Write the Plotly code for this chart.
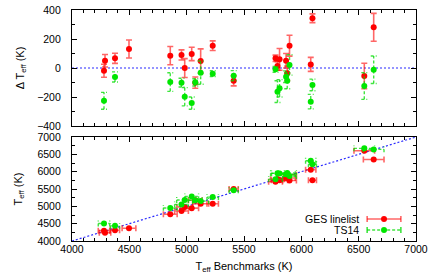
import plotly.graph_objects as go

# ---------------- data ----------------
bench = [4279, 4288, 4375, 4497, 4857, 4955, 4983, 5044, 5075, 5122, 5227, 5410,
         5775, 5792, 5810, 5867, 5877, 5897, 6082, 6097, 6549, 6631]
bench_err = [50, 50, 40, 60, 60, 60, 70, 60, 60, 70, 50, 40,
             60, 60, 70, 80, 80, 60, 45, 35, 90, 90]

d_ges = [-19, 50, 67, 131, 85, 90, 0, 97, -101, 48, 154, -88,
         67, 14, 60, 50, -37, 154, 25, 343, -55, 281]
d_ges_err = [45, 43, 35, 62, 63, 35, 65, 46, 39, 84, 33, 35,
             22, 30, 75, 50, 50, 72, 48, 30, 88, 96]

d_ts14 = [-226, None, -62, None, -97, -101, -198, -242, -99, -32, -39, -53,
          -9, -163, -140, -60, -88, 21, -232, -117, -124, -12]
d_ts14_err = [58, None, 35, None, 64, 30, 63, 42, 25, 80, 20, 35,
              20, 75, 60, 40, 55, 70, 50, 40, 92, 95]

teff_ges = [4298, 4238, 4308, 4366, 4772, 4865, 4983, 4947, 5176, 5074, 5073, 5498,
            5708, 5778, 5750, 5817, 5914, 5743, 6057, 5754, 6604, 6350]
teff_ts14 = [4505, None, 4437, None, 4954, 5056, 5181, 5286, 5174, 5154, 5266, 5463,
             5784, 5955, 5950, 5927, 5965, 5876, 6314, 6214, 6673, 6643]

x_ticks = [4000, 4500, 5000, 5500, 6000, 6500, 7000]
dy_ticks = [-400, -200, 0, 200, 400]
t_ticks = [4000, 4500, 5000, 5500, 6000, 6500, 7000]

series_names = ["GES linelist", "TS14"]

# ---------------- styles ----------------
RED = "#ff0000"
RED_BAR = "rgba(255,0,0,0.6)"
GREEN = "#00e600"
GREEN_BAR = "rgba(0,220,0,0.75)"
BLUE = "#2a2aff"
FONT = "Liberation Sans, Arial, sans-serif"
CAP_X = 26     # half cap width in K on the x axis (about 3 px)
CAP_Y = 85     # half cap height in K on the lower y axis (about 3 px)

fig = go.Figure()

# reference lines
fig.add_trace(go.Scatter(x=[x_ticks[0], x_ticks[-1]], y=[0, 0], mode="lines",
                         line=dict(color=BLUE, width=1.2, dash="2px,2px"),
                         xaxis="x", yaxis="y", showlegend=False, hoverinfo="skip"))
fig.add_trace(go.Scatter(x=[t_ticks[0], t_ticks[-1]], y=[t_ticks[0], t_ticks[-1]], mode="lines",
                         line=dict(color=BLUE, width=1.2, dash="2px,2px"),
                         xaxis="x2", yaxis="y2", showlegend=False, hoverinfo="skip"))

# ---- top panel: GES linelist ----
fig.add_trace(go.Scatter(x=bench, y=d_ges, mode="markers",
                         marker=dict(color=RED, size=6),
                         error_y=dict(type="data", array=d_ges_err, color=RED_BAR,
                                      thickness=1.6, width=3),
                         xaxis="x", yaxis="y", showlegend=False))

# ---- top panel: TS14 dashed error bars built from data ----
gx, gy = [], []
for b, d, e in zip(bench, d_ts14, d_ts14_err):
    if d is None:
        continue
    gx += [b, b, None, b - CAP_X, b + CAP_X, None, b - CAP_X, b + CAP_X, None]
    gy += [d - e, d + e, None, d - e, d - e, None, d + e, d + e, None]
fig.add_trace(go.Scatter(x=gx, y=gy, mode="lines",
                         line=dict(color=GREEN_BAR, width=1.4, dash="3px,2px"),
                         xaxis="x", yaxis="y", showlegend=False, hoverinfo="skip"))
fig.add_trace(go.Scatter(x=bench, y=d_ts14, mode="markers",
                         marker=dict(color=GREEN, size=6),
                         xaxis="x", yaxis="y", showlegend=False))

# ---- bottom panel: GES linelist ----
fig.add_trace(go.Scatter(x=bench, y=teff_ges, mode="markers",
                         marker=dict(color=RED, size=6),
                         error_x=dict(type="data", array=bench_err, color=RED_BAR,
                                      thickness=1.6, width=3),
                         xaxis="x2", yaxis="y2", showlegend=False))

# ---- bottom panel: TS14 dashed horizontal error bars ----
hx, hy = [], []
for b, t, e in zip(bench, teff_ts14, bench_err):
    if t is None:
        continue
    hx += [b - e, b + e, None, b - e, b - e, None, b + e, b + e, None]
    hy += [t, t, None, t - CAP_Y, t + CAP_Y, None, t - CAP_Y, t + CAP_Y, None]
fig.add_trace(go.Scatter(x=hx, y=hy, mode="lines",
                         line=dict(color=GREEN_BAR, width=1.4, dash="3px,2px"),
                         xaxis="x2", yaxis="y2", showlegend=False, hoverinfo="skip"))
fig.add_trace(go.Scatter(x=bench, y=teff_ts14, mode="markers",
                         marker=dict(color=GREEN, size=6),
                         xaxis="x2", yaxis="y2", showlegend=False))

# ---------------- key (gnuplot style: text right, sample on the right) ----------------
key_rows = [(0.0952, RED, RED_BAR, "solid"), (0.0476, GREEN, GREEN_BAR, "3px,2px")]
shapes = []
annotations = []
for name, (yk, mc, lc, dash) in zip(series_names, key_rows):
    annotations.append(dict(xref="paper", yref="paper", x=0.837, y=yk, text=name,
                            showarrow=False, xanchor="right", yanchor="middle",
                            borderpad=0,
                            font=dict(family=FONT, size=10.5, color="black")))
    shapes.append(dict(type="line", xref="paper", yref="paper", x0=0.858, x1=0.956,
                       y0=yk, y1=yk, line=dict(color=lc, width=1.6, dash=dash)))
    for xe in (0.858, 0.956):
        shapes.append(dict(type="line", xref="paper", yref="paper", x0=xe, x1=xe,
                           ysizemode="pixel", yanchor=yk, y0=-3, y1=3,
                           line=dict(color=lc, width=1.6)))
    shapes.append(dict(type="circle", xref="paper", yref="paper",
                       xsizemode="pixel", ysizemode="pixel", xanchor=0.907, yanchor=yk,
                       x0=-3, x1=3, y0=-3, y1=3, fillcolor=mc, line=dict(width=0)))

axis_common = dict(showline=True, linecolor="black", linewidth=1.2, mirror="allticks",
                   ticks="inside", ticklen=5, tickcolor="black", tickwidth=1,
                   showgrid=False, zeroline=False, automargin=False,
                   tickfont=dict(family=FONT, size=10.5, color="black"))

fig.update_layout(
    width=431, height=276,
    margin=dict(l=72, r=15, t=10, b=35),
    paper_bgcolor="white", plot_bgcolor="white",
    font=dict(family=FONT, size=10.5, color="black"),
    showlegend=False,
    xaxis=dict(domain=[0, 1], anchor="y", range=[4000, 7000], tickvals=x_ticks,
               showticklabels=False,
               minor=dict(dtick=100, ticks="inside", ticklen=3, tickcolor="black"),
               **axis_common),
    yaxis=dict(domain=[0.4978, 1], anchor="x", range=[-400, 400], tickvals=dy_ticks,
               minor=dict(dtick=100, ticks="inside", ticklen=3, tickcolor="black"),
               ticklabelstandoff=8,
               title=dict(text="Δ T<sub>eff</sub> (K)", standoff=10,
                          font=dict(family=FONT, size=11, color="black")),
               **axis_common),
    xaxis2=dict(domain=[0, 1], anchor="y2", range=[4000, 7000], tickvals=x_ticks,
                minor=dict(dtick=100, ticks="inside", ticklen=3, tickcolor="black"),
                ticklabelstandoff=-2,
                title=dict(text="T<sub>eff</sub> Benchmarks (K)", standoff=8,
                           font=dict(family=FONT, size=11, color="black")),
                **axis_common),
    yaxis2=dict(domain=[0, 0.4502], anchor="x2", range=[4000, 7000], tickvals=t_ticks,
                minor=dict(dtick=250, ticks="inside", ticklen=3, tickcolor="black"),
                ticklabelstandoff=8,
                title=dict(text="T<sub>eff</sub> (K)", standoff=12,
                           font=dict(family=FONT, size=11, color="black")),
                **axis_common),
    shapes=shapes,
    annotations=annotations,
)

fig.write_html("out.html", config={"displayModeBar": False},
               post_script="document.body.style.margin='0';document.body.style.overflow='hidden';")
